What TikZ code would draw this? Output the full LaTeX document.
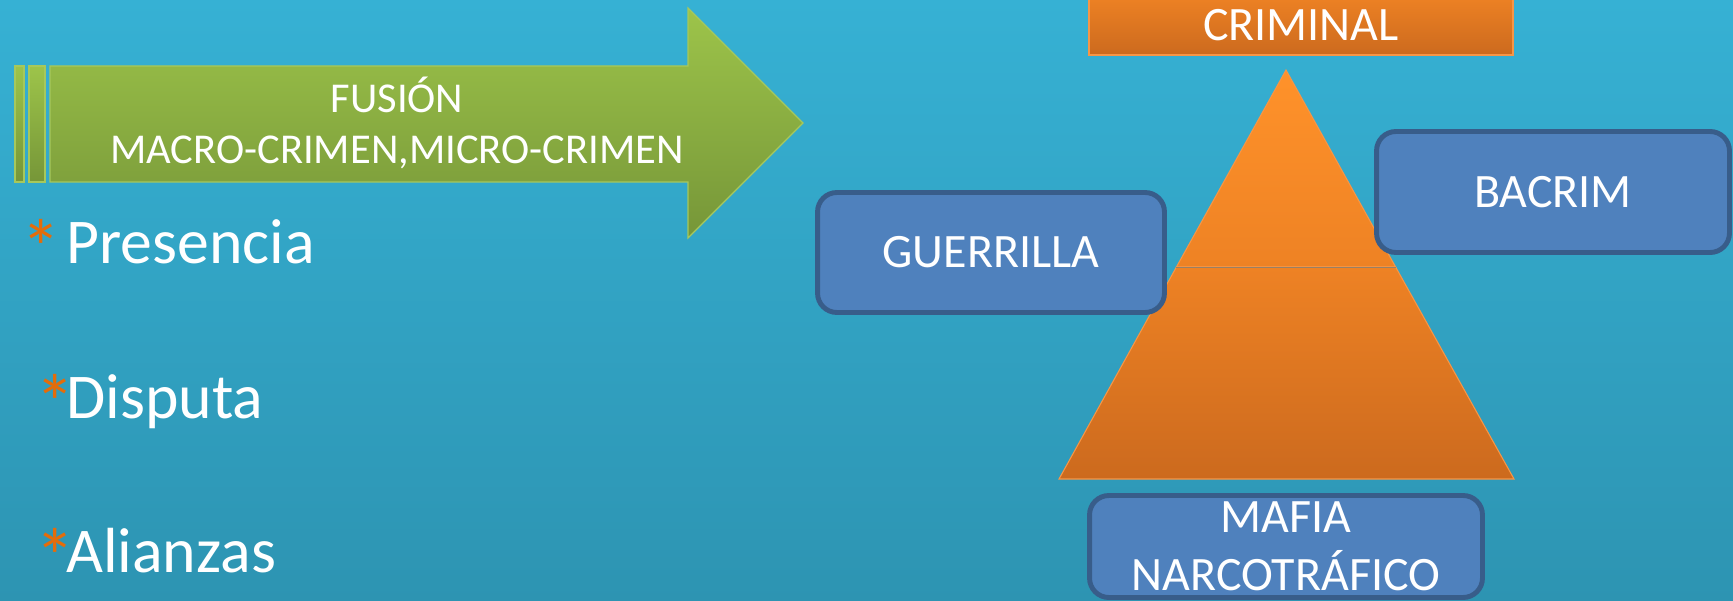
\documentclass[tikz,border=0pt]{standalone}
\usepackage{fontspec}
\setmainfont{Carlito}
\usetikzlibrary{positioning}
\usetikzlibrary{shapes}

\definecolor{bgtop}{RGB}{54,177,212}
\definecolor{bgbottom}{RGB}{45,148,178}
\definecolor{groupfill}{RGB}{79,129,189}
\definecolor{groupedge}{RGB}{56,93,138}
\definecolor{orangetop}{RGB}{255,146,42}
\definecolor{orangemid}{RGB}{238,130,36}
\definecolor{orangebottom}{RGB}{204,106,30}
\definecolor{orangeedge}{RGB}{247,150,70}
\definecolor{greentop}{RGB}{157,196,74}
\definecolor{greenbottom}{RGB}{118,150,56}
\definecolor{greenedge}{RGB}{166,200,92}
\definecolor{bulletmark}{RGB}{228,108,10}

% orange bullet mark, #1 = room it takes
\newcommand{\bulletmark}[1]{\makebox[#1][l]{\textcolor{bulletmark}{\raisebox{-7pt}{\fontsize{45}{45}\selectfont *}}}}

\tikzset{
        % Blue boxes of the groups
        node_group/.style={draw=groupedge, fill=groupfill, line width=2.8pt, rounded corners=11pt,
            text=white, align=center, inner sep=0pt, font=\fontsize{27.3}{33}\selectfont},
        % Orange title box
        node_title/.style={draw=orangeedge, line width=0.85pt, top color=orangemid, bottom color=orangebottom,
            text=white, inner sep=0pt, font=\fontsize{27.3}{33}\selectfont},
        % Parts of the pyramid
        pyramid_part/.style={draw=orangeedge, line width=0.6pt},
        % Green arrow
        arrow_body/.style={draw=greenedge, line width=0.7pt, top color=greentop, bottom color=greenbottom},
        % Bullet lines
        node_bullet/.style={anchor=base west, inner sep=0pt, text=white, font=\fontsize{36.3}{42}\selectfont}
}

\begin{document}
\begin{tikzpicture}[x=0.02cm, y=-0.02cm]
    % background
    \shade[top color=bgtop, bottom color=bgbottom] (0,0) rectangle (1733,601);
    \useasboundingbox (0,0) rectangle (1733,601);

    % arrow
    \shade[arrow_body] (15,66) rectangle (24,182);
    \shade[arrow_body] (29,66) rectangle (45,182);
    \shade[arrow_body] (50,66) -- (688,66) -- (688,8) -- (803,123) -- (688,238) -- (688,182) -- (50,182) -- cycle;
    \node[text=white, align=center, inner sep=0pt, font=\fontsize{24.2}{29}\selectfont] (fusion) at (397,123)
        {FUSIÓN\\MACRO-CRIMEN,MICRO-CRIMEN};

    % bullets
    \node[node_bullet] (presencia) at (21,263) {\bulletmark{25.5pt}Presencia};
    \node[node_bullet] (disputa) at (35,418) {\bulletmark{17.6pt}Disputa};
    \node[node_bullet] (alianzas) at (35,572) {\bulletmark{17.6pt}Alianzas};

    % pyramid
    \coordinate (apex) at (1286,70);
    \coordinate (midleft) at (1176.4,267);
    \coordinate (midright) at (1395.6,267);
    \coordinate (baseleft) at (1059,479);
    \coordinate (baseright) at (1514,479);
    \shade[pyramid_part, top color=orangetop, bottom color=orangemid] (apex) -- (midright) -- (midleft) -- cycle;
    \shade[pyramid_part, top color=orangemid, bottom color=orangebottom] (midleft) -- (midright) -- (baseright) -- (baseleft) -- cycle;
    \draw[line width=0.5pt, color=gray!80!orange] (midleft) -- (midright);

    % boxes
    \node[node_title, minimum width=8.48cm, minimum height=1.2cm] (criminal) at (1301,25) {CRIMINAL};
    \node[node_group, minimum width=6.94cm, minimum height=2.4cm] (guerrilla) at (991,252.5) {GUERRILLA};
    \node[node_group, minimum width=7.06cm, minimum height=2.42cm] (bacrim) at (1553,192) {BACRIM};
    \node[node_group, minimum width=7.86cm, minimum height=2.04cm] (mafia) at (1286,546.5) {MAFIA\\NARCOTRÁFICO};
\end{tikzpicture}
\end{document}
